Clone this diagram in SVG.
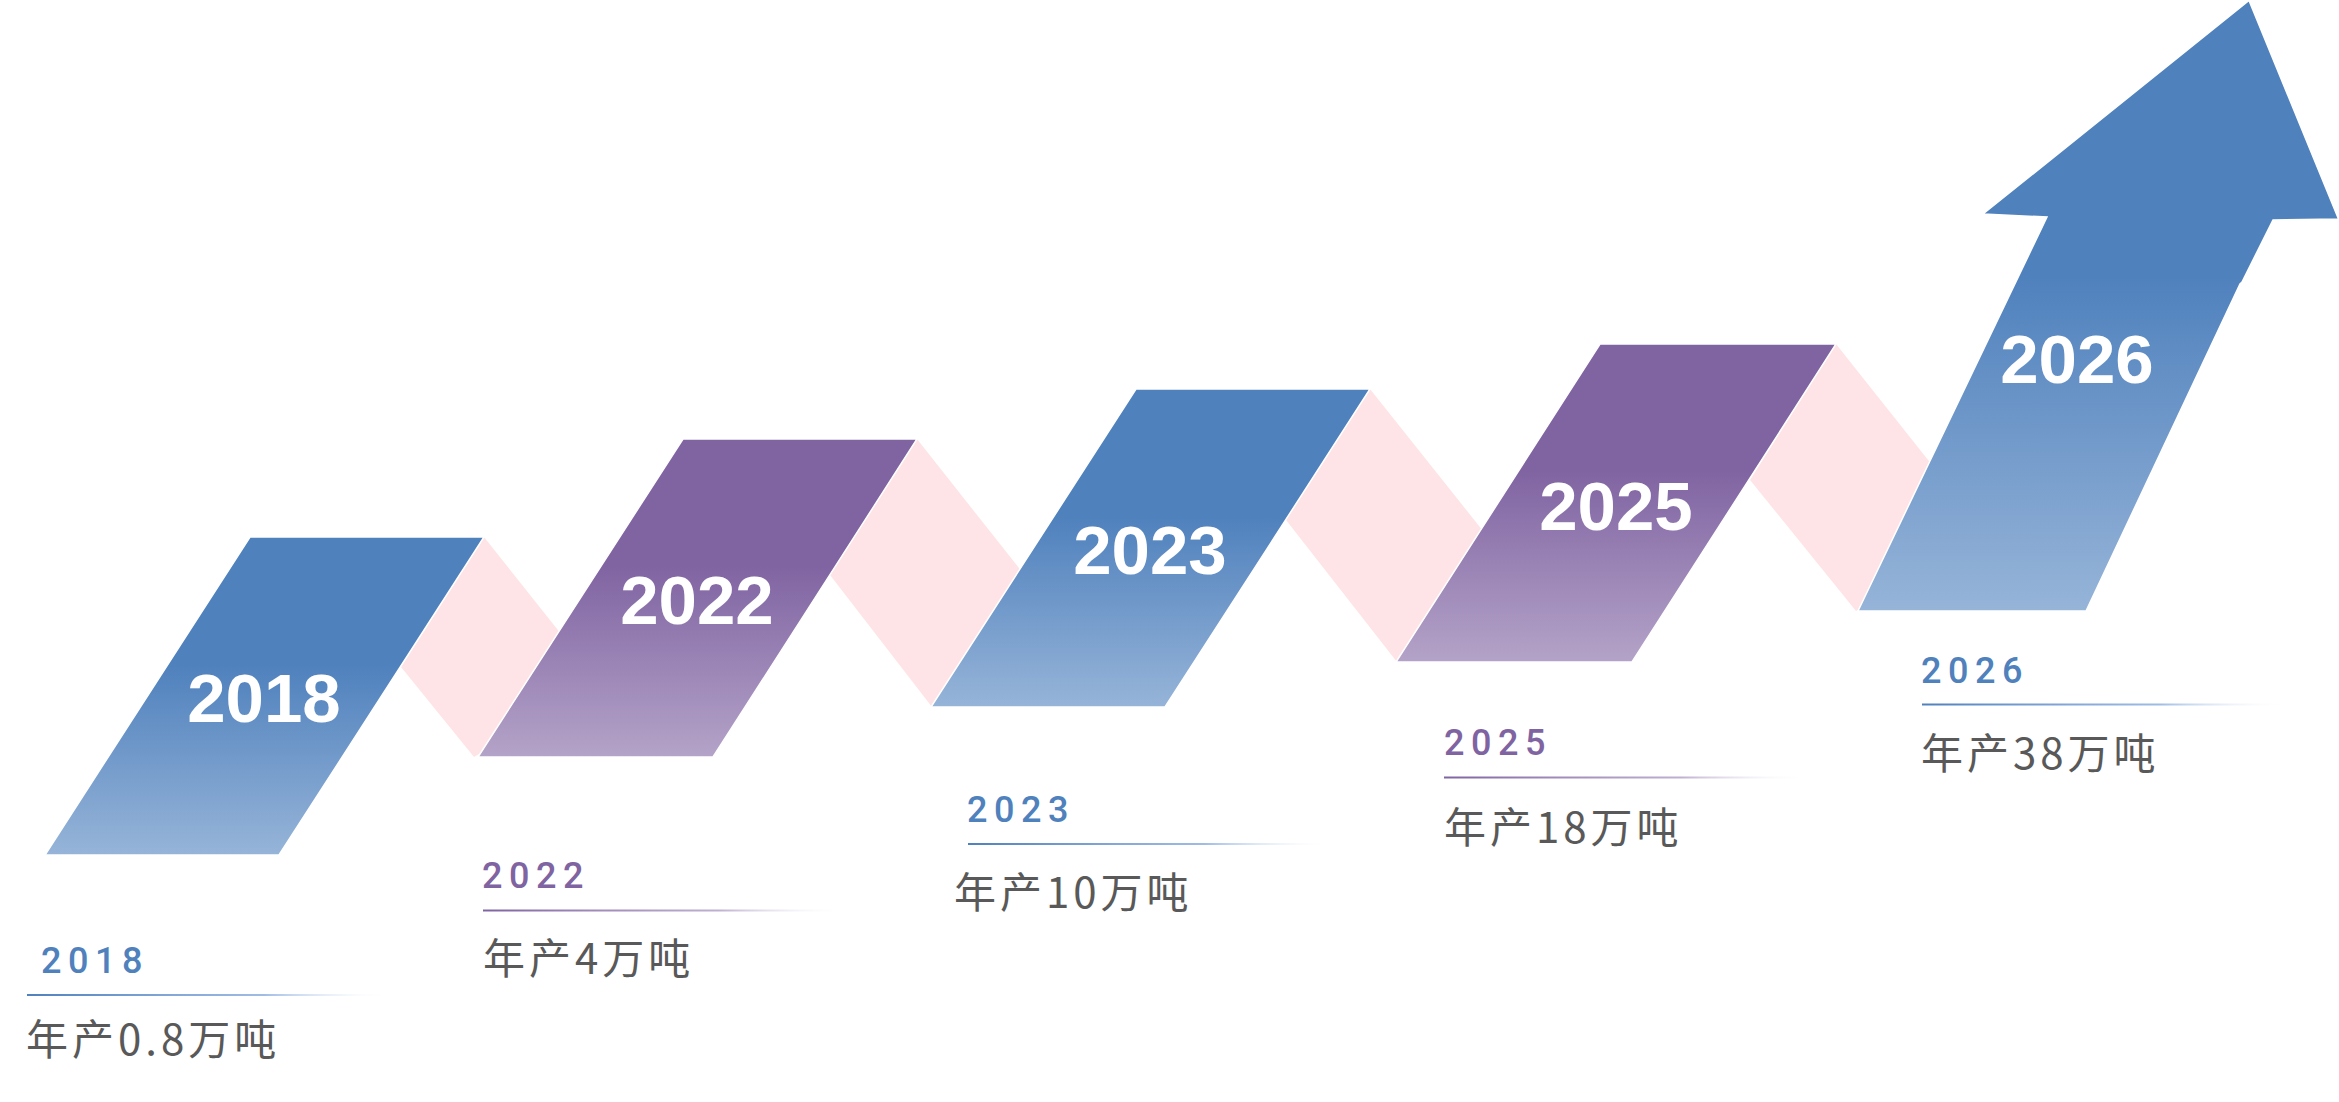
<svg xmlns="http://www.w3.org/2000/svg" width="2339" height="1102" viewBox="0 0 2339 1102">
  <defs>
    <linearGradient id="gBlue" x1="0" y1="0" x2="0" y2="1">
      <stop offset="0" stop-color="#4f81bd"/>
      <stop offset="0.4" stop-color="#4f81bd"/>
      <stop offset="1" stop-color="#96b4d8"/>
    </linearGradient>
    <linearGradient id="gPurple" x1="0" y1="0" x2="0" y2="1">
      <stop offset="0" stop-color="#8064a2"/>
      <stop offset="0.4" stop-color="#8064a2"/>
      <stop offset="1" stop-color="#b4a3c8"/>
    </linearGradient>
    <linearGradient id="gArrow" x1="0" y1="0" x2="0" y2="1">
      <stop offset="0" stop-color="#4f81bd"/>
      <stop offset="0.45" stop-color="#4f81bd"/>
      <stop offset="1" stop-color="#96b4d8"/>
    </linearGradient>
    <linearGradient id="lBlue" x1="0" y1="0" x2="1" y2="0">
      <stop offset="0" stop-color="#4f81bd"/>
      <stop offset="0.65" stop-color="#8fb0e0" stop-opacity="0.85"/>
      <stop offset="1" stop-color="#ffffff" stop-opacity="0"/>
    </linearGradient>
    <linearGradient id="lPurple" x1="0" y1="0" x2="1" y2="0">
      <stop offset="0" stop-color="#8064a2"/>
      <stop offset="0.65" stop-color="#b3a2c8" stop-opacity="0.85"/>
      <stop offset="1" stop-color="#ffffff" stop-opacity="0"/>
    </linearGradient>
  </defs>
  <style>
    .band { fill: #fee4e6; }
    .shape { stroke: #ffffff; stroke-width: 1.5; stroke-linejoin: miter; }
    .big { font-family: "Liberation Sans", Arial, sans-serif; font-weight: bold; font-size: 69px; fill: #ffffff; text-anchor: middle; }
    .yr { font-family: Roboto, "Noto Sans", sans-serif; font-size: 36px; font-weight: 500; letter-spacing: 6.5px; }
    .yb { fill: #4f81bd; }
    .yp { fill: #8064a2; }
    .cn { font-family: "Noto Sans CJK SC", "Noto Sans", sans-serif; font-size: 42px; letter-spacing: 4px; fill: #595959; }
  </style>
  <rect width="2339" height="1102" fill="#ffffff"/>

  <g id="connectors">
    <polygon class="band" points="484,537 600,683 474,757 401,667"/>
    <polygon class="band" points="917,439 1060,620 932,707 830,575"/>
    <polygon class="band" points="1370,389 1530,590 1397,662 1286,520"/>
    <polygon class="band" points="1836,344 1990,538 1856,611 1750,480"/>
  </g>

  <g id="node-2018">
    <polygon class="shape" fill="url(#gBlue)" points="250,537 484,537 279,855 45,855"/>
    <text class="big" x="264" y="722">2018</text>
    <text class="yr yb" x="41" y="973">2018</text>
    <rect x="27" y="994" width="363" height="2" fill="url(#lBlue)"/>
    <text class="cn" x="26" y="1055">年产0.8万吨</text>
  </g>

  <g id="node-2022">
    <polygon class="shape" fill="url(#gPurple)" points="683,439 917,439 713,757 478,757"/>
    <text class="big" x="697" y="624">2022</text>
    <text class="yr yp" x="482" y="888">2022</text>
    <rect x="483" y="909.5" width="363" height="2" fill="url(#lPurple)"/>
    <text class="cn" x="483" y="973.5">年产4万吨</text>
  </g>

  <g id="node-2023">
    <polygon class="shape" fill="url(#gBlue)" points="1136,389 1370,389 1165,707 931,707"/>
    <text class="big" x="1150" y="574">2023</text>
    <text class="yr yb" x="967" y="822">2023</text>
    <rect x="968" y="843" width="364" height="2" fill="url(#lBlue)"/>
    <text class="cn" x="954" y="907.5">年产10万吨</text>
  </g>

  <g id="node-2025">
    <polygon class="shape" fill="url(#gPurple)" points="1600,344 1836,344 1632,662 1396,662"/>
    <text class="big" x="1616" y="530">2025</text>
    <text class="yr yp" x="1444" y="755">2025</text>
    <rect x="1444" y="776.5" width="364" height="2" fill="url(#lPurple)"/>
    <text class="cn" x="1444" y="843">年产18万吨</text>
  </g>

  <g id="node-2026">
    <polygon class="shape" fill="url(#gArrow)" points="1858,611 2047,217 1983,214 2249,0.5 2338.5,219 2273,220 2242,282 2240,284 2086,611"/>
    <text class="big" x="2077" y="383">2026</text>
    <text class="yr yb" x="1921" y="683">2026</text>
    <rect x="1922" y="703.5" width="365" height="2" fill="url(#lBlue)"/>
    <text class="cn" x="1921" y="769">年产38万吨</text>
  </g>
</svg>
